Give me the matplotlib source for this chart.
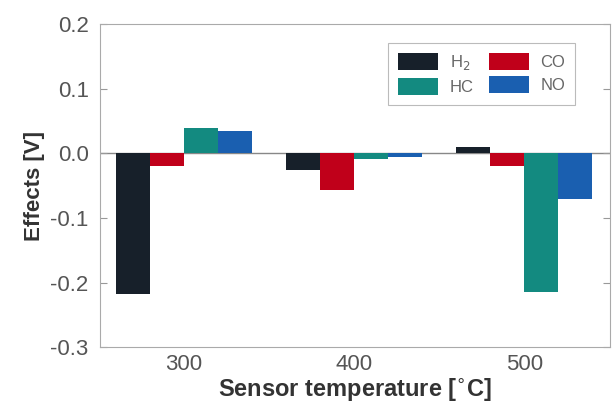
import numpy as np
import matplotlib.pyplot as plt

plt.rcParams['font.family'] = ['Liberation Sans', 'DejaVu Sans']

temps = [300, 400, 500]
gases = ['H$_2$', 'CO', 'HC', 'NO']
h2 = [-0.218, -0.026, 0.009]
co = [-0.019, -0.057, -0.019]
hc = [0.039, -0.009, -0.215]
no = [0.034, -0.006, -0.071]
colors = ['#17202a', '#c0001a', '#138a80', '#1a5fb0']

fig = plt.figure(figsize=(6.12, 4.07), dpi=100)
ax = fig.add_axes([0.163, 0.147, 0.834, 0.794])

x = np.array(temps)
width = 20
bars = []
for i, (vals, lab) in enumerate(zip([h2, co, hc, no], gases)):
    b = ax.bar(x + (i - 1.5) * width, vals, width, color=colors[i], label=lab,
               edgecolor='none')
    bars.append(b)

ax.axhline(0, color='#888888', lw=1, zorder=0)
ax.set_xlim(250.5, 550.5)
ax.set_ylim(-0.3, 0.2)
ax.set_xticks(temps)
ax.set_yticks([-0.3, -0.2, -0.1, 0.0, 0.1, 0.2])
ax.set_yticklabels(['-0.3', '-0.2', '-0.1', '0.0', '0.1', '0.2'])
ax.tick_params(axis='x', length=0, labelsize=16, labelcolor='#555555', pad=5)
ax.tick_params(axis='y', direction='in', length=5, labelsize=16,
               labelcolor='#555555', color='#999999', right=True, pad=8)
for s in ax.spines.values():
    s.set_color('#aaaaaa')

ax.set_xlabel('Sensor temperature [$^{\\circ}$C]', fontsize=17,
              fontweight='bold', color='#333333', labelpad=1)
ax.set_ylabel('Effects [V]', fontsize=16, fontweight='bold', color='#333333',
              labelpad=4)

# row-wise order: H2, CO / HC, NO
order = [0, 2, 1, 3]
leg = ax.legend([bars[i] for i in order], [gases[i] for i in order],
                ncol=2, loc='upper right', bbox_to_anchor=(0.932, 0.942),
                borderaxespad=0, fontsize=12, frameon=True, fancybox=False,
                handlelength=2.4, handleheight=1.2, columnspacing=0.9,
                handletextpad=0.7, borderpad=0.6, labelspacing=0.38)
leg.get_frame().set_edgecolor('#aaaaaa')
leg.get_frame().set_linewidth(0.8)
for t in leg.get_texts():
    t.set_color('#666666')

fig.savefig('out.png', dpi=100)
